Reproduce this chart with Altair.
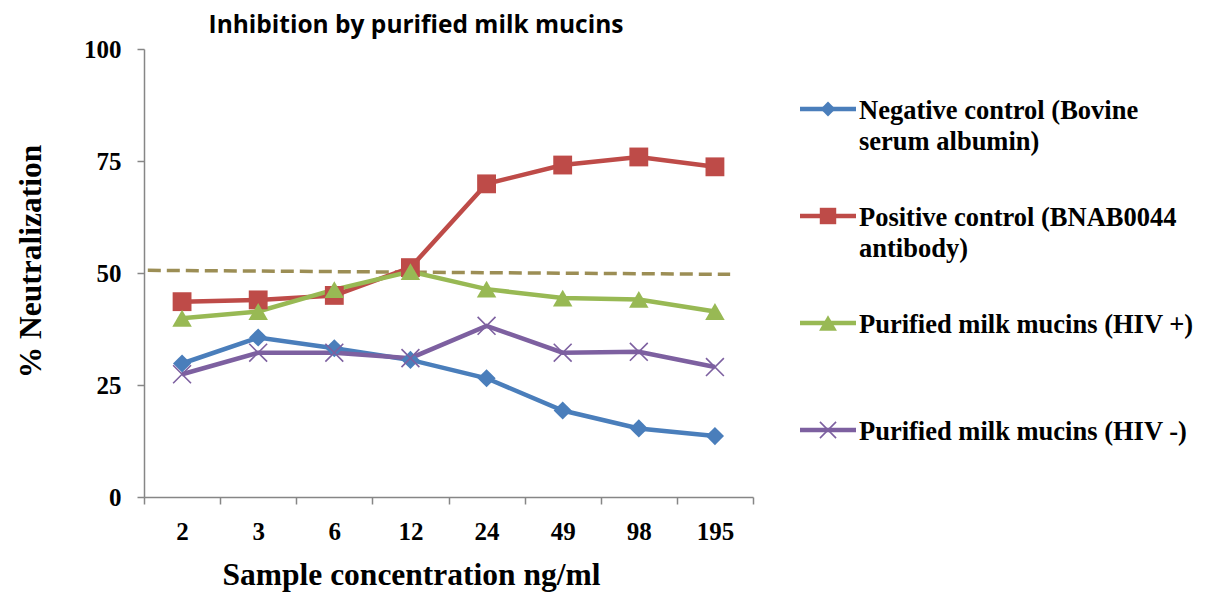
import json
import pandas as pd
import altair as alt

# ---------------- data ----------------
categories = ["2", "3", "6", "12", "24", "49", "98", "195"]
series_names = [
    "Negative control (Bovine serum albumin)",
    "Positive control (BNAB0044 antibody)",
    "Purified milk mucins (HIV +)",
    "Purified milk mucins (HIV -)",
]
legend_labels = [
    "Negative control (Bovine\nserum albumin)",
    "Positive control (BNAB0044\nantibody)",
    "Purified milk mucins (HIV +)",
    "Purified milk mucins (HIV -)",
]
neg_values = [29.8, 35.6, 33.2, 30.6, 26.5, 19.3, 15.3, 13.6]
pos_values = [43.6, 44.0, 45.0, 51.2, 69.9, 74.1, 75.9, 73.7]
hivp_values = [39.9, 41.4, 46.3, 50.3, 46.4, 44.4, 44.1, 41.4]
hivn_values = [27.4, 32.2, 32.2, 31.0, 38.2, 32.2, 32.4, 29.0]
trend_x = [0.05, 7.7]
trend_values = [50.6, 49.7]

title_text = "Inhibition by purified milk mucins"
x_title = "Sample concentration ng/ml"
y_title = "% Neutralization"

colors = ["#4A7EBB", "#BE4B48", "#98B954", "#7D60A0"]
trend_color = "#9C8E55"
filled_shapes = ["diamond", "square", "triangle-up"]
x_shape = "M-1,-1L1,1M-1,1L1,-1"

# ---------------- tables ----------------
all_values = [neg_values, pos_values, hivp_values, hivn_values]
rows = []
for s, vals in zip(series_names, all_values):
    for i, v in enumerate(vals):
        rows.append({"series": s, "pos": i + 0.5, "value": v})
df = pd.DataFrame(rows)
df_filled = df[df["series"] != series_names[3]]
df_x = df[df["series"] == series_names[3]]
df_trend = pd.DataFrame({"pos": trend_x, "value": trend_values})
df_leg = pd.DataFrame({"series": series_names, "label": legend_labels,
                       "slot": list(range(len(series_names)))})
df_title = pd.DataFrame({"t": [title_text]})

serif = "Liberation Serif"
color_scale = alt.Scale(domain=series_names, range=colors)
shape_scale = alt.Scale(domain=series_names[:3], range=filled_shapes)

x_enc = alt.X("pos:Q", scale=alt.Scale(domain=[0, 8], nice=False, zero=False),
              axis=alt.Axis(values=list(range(9)), title=x_title,
                            labelExpr="datum.value < 8 ? " + json.dumps(categories) + "[datum.value] : ''",
                            labelOffset=38, labelAlign="center", labelBaseline="alphabetic",
                            labelPadding=35, tickSize=7, labelFlush=False, labelOverlap=False,
                            titleX=267, titleY=87, titleBaseline="alphabetic", titleAlign="center",
                            grid=False))
y_enc = alt.Y("value:Q", scale=alt.Scale(domain=[0, 100], nice=False),
              axis=alt.Axis(values=[0, 25, 50, 75, 100], title=y_title, tickSize=7,
                            labelPadding=16, grid=False, titleAngle=-90,
                            titleX=-104, titleY=212, titleBaseline="alphabetic",
                            titleAlign="center"))
y_plain = alt.Y("value:Q", scale=alt.Scale(domain=[0, 100], nice=False))

trend = alt.Chart(df_trend).mark_line(color=trend_color, strokeWidth=3.5,
                                      strokeDash=[13, 6]).encode(x=x_enc, y=y_enc)
lines = alt.Chart(df).mark_line(strokeWidth=4.5).encode(
    x="pos:Q", y=y_plain,
    color=alt.Color("series:N", scale=color_scale, legend=None),
    order="pos:Q")
pts = alt.Chart(df_filled).mark_point(filled=True, opacity=1).encode(
    x="pos:Q", y=y_plain,
    color=alt.Color("series:N", scale=color_scale, legend=None),
    shape=alt.Shape("series:N", scale=shape_scale, legend=None),
    size=alt.Size("series:N", scale=alt.Scale(domain=series_names[:3], range=[330, 380, 380]),
                  legend=None))
pts_x = alt.Chart(df_x).mark_point(shape=x_shape, filled=False, size=320,
                                   strokeWidth=1.6, color=colors[3], opacity=1).encode(
    x="pos:Q", y=y_plain)

main = alt.layer(trend, lines, pts, pts_x)

# ---------------- manual legend ----------------
slot_y = alt.Y("slot:Q", scale=alt.Scale(domain=[0, 3], range=[60, 381]), axis=None)
leg_line = alt.Chart(df_leg).mark_rule(strokeWidth=4.5).encode(
    x=alt.value(656), x2=alt.value(712), y=slot_y,
    color=alt.Color("series:N", scale=color_scale, legend=None))
leg_pts = alt.Chart(df_leg[df_leg["series"] != series_names[3]]).mark_point(
    filled=True, opacity=1).encode(
    x=alt.value(684), y=slot_y,
    color=alt.Color("series:N", scale=color_scale, legend=None),
    shape=alt.Shape("series:N", scale=shape_scale, legend=None),
    size=alt.Size("series:N", scale=alt.Scale(domain=series_names[:3], range=[220, 320, 300]),
                  legend=None))
leg_x = alt.Chart(df_leg[df_leg["series"] == series_names[3]]).mark_point(
    shape=x_shape, filled=False, size=260, strokeWidth=1.6, color=colors[3], opacity=1).encode(
    x=alt.value(684), y=slot_y)
leg_text = alt.Chart(df_leg).mark_text(
    align="left", baseline="alphabetic", dy=10, font=serif, fontWeight="bold",
    fontSize=26.5, lineBreak="\n", lineHeight=31, color="black").encode(
    x=alt.value(715), y=slot_y, text="label:N")
title_mark = alt.Chart(df_title).mark_text(
    align="center", baseline="alphabetic", font="Open Sans", fontWeight="bold",
    fontSize=24.5, color="black").encode(
    x=alt.value(272), y=alt.value(-16), text="t:N")

legend = alt.layer(leg_line, leg_pts, leg_x, leg_text, title_mark)

chart = alt.layer(main, legend).resolve_scale(
    y="independent", size="independent"
).properties(
    width=609, height=448,
    padding={"left": 136, "top": 41, "right": 444, "bottom": 96},
    autosize=alt.AutoSizeParams(type="none"),
).configure_view(stroke=None).configure_axis(
    domainColor="#868686", tickColor="#868686", domainWidth=1.5, tickWidth=1.5,
    labelFont=serif, labelFontWeight="bold", labelFontSize=25, labelColor="black",
    titleFont=serif, titleFontWeight="bold", titleFontSize=31.5, titleColor="black",
)

chart.save("out.html", embed_options={"renderer": "svg", "actions": False})
